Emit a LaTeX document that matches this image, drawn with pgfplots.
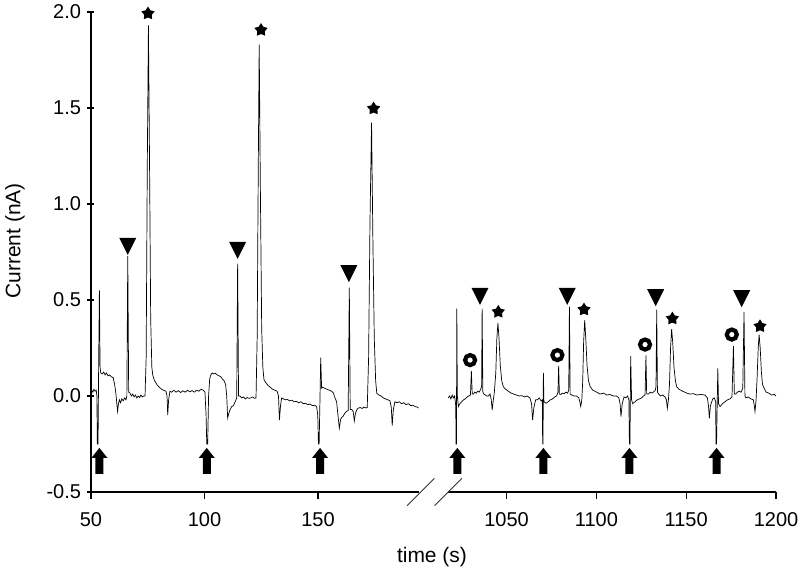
\documentclass[border=0pt]{standalone}
\usepackage{fontspec}
\setmainfont{Liberation Sans}
\usepackage{pgfplots}
\pgfplotsset{compat=1.18}

\pgfdeclareplotmark{fstar}{%
  \pgfpathmoveto{\pgfpointpolar{90}{7bp}}%
  \pgfpathlineto{\pgfpointpolar{126}{4bp}}%
  \pgfpathlineto{\pgfpointpolar{162}{7bp}}%
  \pgfpathlineto{\pgfpointpolar{198}{4bp}}%
  \pgfpathlineto{\pgfpointpolar{234}{7bp}}%
  \pgfpathlineto{\pgfpointpolar{270}{4bp}}%
  \pgfpathlineto{\pgfpointpolar{306}{7bp}}%
  \pgfpathlineto{\pgfpointpolar{342}{4bp}}%
  \pgfpathlineto{\pgfpointpolar{18}{7bp}}%
  \pgfpathlineto{\pgfpointpolar{54}{4bp}}%
  \pgfpathclose\pgfusepathqfill}
\pgfdeclareplotmark{dtri}{%
  \pgfpathmoveto{\pgfpoint{-8.5bp}{8.5bp}}%
  \pgfpathlineto{\pgfpoint{8.5bp}{8.5bp}}%
  \pgfpathlineto{\pgfpoint{0bp}{-8.5bp}}%
  \pgfpathclose\pgfusepathqfill}
\pgfdeclareplotmark{uarr}{%
  \pgfpathmoveto{\pgfpoint{0bp}{13bp}}%
  \pgfpathlineto{\pgfpoint{8bp}{3bp}}%
  \pgfpathlineto{\pgfpoint{4bp}{3bp}}%
  \pgfpathlineto{\pgfpoint{4bp}{-13bp}}%
  \pgfpathlineto{\pgfpoint{-4bp}{-13bp}}%
  \pgfpathlineto{\pgfpoint{-4bp}{3bp}}%
  \pgfpathlineto{\pgfpoint{-8bp}{3bp}}%
  \pgfpathclose\pgfusepathqfill}

\pgfplotsset{
  brk/.style={
    scale only axis, width=328bp, height=480bp,
    ymin=-0.5, ymax=2.0,
    axis x line=bottom,
    x axis line style={-, line width=1.2bp},
    tick align=outside, major tick length=7bp,
    tick style={black, line width=1.1bp},
    tick label style={font=\fontsize{20bp}{23bp}\selectfont},
    xticklabel style={yshift=-10bp},
    clip=false,
  },
  trace/.style={black, line width=0.7bp},
  tri/.style={only marks, mark=dtri, black},
  str/.style={only marks, mark=fstar, black},
  arr/.style={only marks, mark=uarr, black},
  rng/.style={only marks, mark=o, mark size=5bp, mark options={line width=4.2bp, draw=black, fill=white}},
}

\begin{document}
\begin{tikzpicture}
\path[use as bounding box] (-91bp,-80bp) rectangle (709bp,492bp);

\begin{axis}[brk, at={(0bp,0bp)}, anchor=south west,
  xmin=50, xmax=194.5,
  axis y line=left, y axis line style={-, line width=1.2bp},
  xtick={50,100,150}, xticklabels={50,100,150},
  ytick={-0.5,0,0.5,1,1.5,2}, yticklabels={-0.5,0.0,0.5,1.0,1.5,2.0},
  yticklabel style={xshift=-3bp},
  ylabel={Current (nA)},
  ylabel style={at={([xshift=-76bp]axis description cs:0,0.523)}, anchor=center, font=\fontsize{21bp}{24bp}\selectfont},
  xlabel={time (s)},
  xlabel style={at={([xshift=341bp,yshift=-65bp]axis description cs:0,0)}, anchor=center, font=\fontsize{21bp}{24bp}\selectfont},
]
\addplot[trace] coordinates {
(50.3,0.03) (50.8,0.02) (51.3,0.035) (51.8,0.025) (52.3,0.03) (52.6,0.0) (52.8,-0.25) (53.1,-0.25)
(53.4,0.2) (53.7,0.55) (54.0,0.15) (54.3,0.12) (55.0,0.115) (55.6,0.125) (56.2,0.11) (56.8,0.12)
(57.5,0.105) (58.2,0.11) (59.0,0.1) (59.8,0.095) (60.4,0.06) (60.9,0.02) (61.3,-0.03) (61.7,-0.08)
(62.1,-0.04) (62.5,-0.02) (63.0,-0.035) (63.6,-0.015) (64.2,-0.025) (64.8,-0.01) (65.4,-0.02)
(65.8,0.0) (66.2,0.73) (66.6,0.02) (67.2,0.015) (67.8,0.0) (68.4,0.01) (69.0,-0.005) (69.6,0.005)
(70.2,-0.01) (70.8,0.0) (71.4,-0.008) (72.0,0.005) (72.6,-0.005) (73.2,0.0) (73.8,0.0)
(74.3,0.2) (74.8,1.2) (75.3,1.93) (75.8,1.2) (76.3,0.4) (76.8,0.15) (77.2,0.11) (77.8,0.085)
(78.5,0.07) (79.3,0.055) (80.2,0.045) (81.1,0.035) (82.0,0.03) (83.0,0.025) (83.5,0.0) (83.8,-0.1)
(84.2,-0.02) (84.8,0.025) (85.5,0.02) (86.5,0.03) (87.5,0.02) (88.5,0.028) (89.5,0.018) (90.5,0.027)
(91.5,0.02) (92.5,0.03) (93.5,0.022) (94.5,0.028) (95.5,0.02) (96.5,0.03) (97.5,0.025) (98.5,0.035)
(99.5,0.03) (100.2,0.02) (100.7,-0.1) (101.0,-0.25) (101.4,-0.25) (101.8,0.0) (102.3,0.09) (102.8,0.11)
(103.4,0.12) (104.0,0.115) (104.8,0.118) (105.6,0.11) (106.4,0.105) (107.2,0.1) (107.8,0.09)
(108.6,0.08) (109.3,0.06) (109.8,0.0) (110.2,-0.115) (110.7,-0.09) (111.3,-0.07) (112.0,-0.055)
(112.8,-0.05) (113.5,-0.03) (114.2,-0.01) (114.6,0.69) (115.0,0.0) (115.6,0.0) (116.4,-0.01)
(117.2,-0.005) (118.0,-0.015) (118.8,-0.008) (119.6,-0.012) (120.4,-0.01) (121.2,-0.005)
(122.0,-0.012) (122.7,-0.01) (123.2,0.3) (123.7,1.2) (124.1,1.83) (124.6,1.1) (125.2,0.35)
(125.7,0.15) (126.2,0.085) (127.0,0.07) (128.0,0.055) (129.0,0.045) (130.0,0.035) (131.0,0.03)
(132.0,0.025) (132.6,0.0) (133.0,-0.125) (133.5,-0.05) (134.0,-0.01) (134.8,-0.015) (135.6,-0.02)
(136.5,-0.018) (137.5,-0.025) (138.5,-0.022) (139.5,-0.03) (140.5,-0.028) (141.5,-0.035)
(142.5,-0.03) (143.5,-0.04) (144.5,-0.038) (145.5,-0.045) (146.5,-0.042) (147.5,-0.05)
(148.5,-0.048) (149.4,-0.055) (149.9,-0.1) (150.2,-0.25) (150.5,-0.25) (150.9,0.0) (151.2,0.2)
(151.6,0.04) (152.1,0.045) (153.0,0.04) (154.0,0.035) (155.0,0.03) (156.0,0.025) (156.8,0.015)
(157.5,-0.01) (158.2,-0.03) (158.8,-0.1) (159.4,-0.167) (160.0,-0.12) (160.6,-0.11) (161.1,-0.105)
(161.8,-0.09) (162.6,-0.08) (163.3,-0.075) (163.8,0.564) (164.2,-0.07) (164.8,-0.07) (165.5,-0.08)
(166.0,-0.13) (166.5,-0.09) (167.2,-0.07) (167.8,-0.063) (168.6,-0.06) (169.4,-0.065) (170.2,-0.058)
(171.0,-0.062) (171.7,-0.06) (172.3,0.2) (172.9,0.9) (173.6,1.424) (174.2,0.8) (174.8,0.3)
(175.4,0.08) (175.9,0.015) (176.8,0.005) (177.8,0.0) (178.8,-0.01) (179.8,-0.015) (180.8,-0.02)
(181.7,-0.025) (182.3,-0.06) (182.7,-0.154) (183.2,-0.07) (183.9,-0.03) (184.8,-0.035) (185.8,-0.03)
(186.8,-0.04) (187.8,-0.035) (188.8,-0.045) (189.8,-0.04) (190.8,-0.05) (191.8,-0.048)
(192.8,-0.055) (193.8,-0.058) (194.3,-0.063)
};
\addplot[tri] coordinates {(66.2,0.779) (114.6,0.758) (163.6,0.637)};
\addplot[str] coordinates {(75.1,1.992) (124.9,1.906) (174.5,1.497)};
\addplot[arr] coordinates {(53.7,-0.338) (101.0,-0.338) (150.9,-0.338)};
\end{axis}

\begin{axis}[brk, at={(357bp,0bp)}, anchor=south west,
  xmin=1017.4, xmax=1200,
  axis y line=none,
  xtick={1050,1100,1150,1200}, xticklabels={1050,1100,1150,1200},
]
\addplot[trace] coordinates {
(1017.6,-0.01) (1018.3,0.0) (1019.0,-0.015) (1019.7,0.005) (1020.4,-0.01) (1021.1,0.0) (1021.7,-0.05)
(1021.9,-0.25) (1022.1,-0.25) (1022.3,0.455) (1022.6,0.0) (1023.2,-0.055) (1024.0,-0.04) (1025.0,-0.03)
(1026.0,-0.02) (1027.0,-0.015) (1028.0,-0.005) (1029.0,0.0) (1029.9,0.005) (1030.4,0.131) (1030.9,0.01)
(1031.5,0.01) (1032.3,0.02) (1033.1,0.015) (1034.0,0.025) (1034.8,0.02) (1035.6,0.035) (1036.1,0.05)
(1036.4,0.455) (1036.8,0.02) (1037.4,0.01) (1038.2,0.005) (1039.0,0.0) (1039.9,0.0) (1040.8,0.01)
(1041.5,-0.02) (1042.0,-0.073) (1042.5,-0.03) (1043.2,0.02) (1044.0,0.12) (1044.6,0.3) (1045.2,0.38)
(1045.8,0.3) (1046.5,0.16) (1047.3,0.08) (1048.2,0.048) (1049.5,0.035) (1051.0,0.025) (1052.5,0.015)
(1054.0,0.01) (1055.5,0.005) (1057.0,0.0) (1058.5,0.002) (1060.0,-0.005) (1061.5,0.0) (1063.0,-0.01)
(1063.9,-0.04) (1064.5,-0.125) (1065.2,-0.06) (1066.2,-0.02) (1067.2,-0.02) (1068.2,-0.01)
(1069.2,-0.025) (1069.9,-0.02) (1070.1,-0.25) (1070.3,-0.25) (1070.5,0.121) (1070.8,-0.03)
(1072.0,-0.038) (1073.2,-0.03) (1074.4,-0.02) (1075.6,-0.015) (1076.8,-0.005) (1077.9,0.0)
(1078.6,0.02) (1079.0,0.157) (1079.4,0.01) (1080.2,0.008) (1081.0,0.015) (1082.0,0.012) (1083.0,0.02)
(1084.0,0.015) (1084.6,0.03) (1085.0,0.464) (1085.4,0.01) (1086.3,0.005) (1087.5,0.0) (1089.0,0.0)
(1090.2,-0.01) (1090.8,-0.03) (1091.3,-0.055) (1091.9,-0.02) (1092.4,0.08) (1092.9,0.28) (1093.5,0.395)
(1094.1,0.3) (1094.8,0.16) (1095.6,0.08) (1096.5,0.05) (1098.0,0.03) (1100.2,0.02) (1102.0,0.01)
(1104.0,0.015) (1105.8,0.005) (1107.5,0.008) (1109.5,0.0) (1111.3,0.0) (1112.5,-0.01) (1113.2,-0.04)
(1113.7,-0.107) (1114.4,-0.04) (1115.4,-0.005) (1116.4,-0.01) (1117.4,0.0) (1118.1,-0.02)
(1118.4,-0.25) (1118.7,-0.25) (1119.1,0.208) (1119.6,-0.02) (1120.2,-0.04) (1121.5,-0.03)
(1122.8,-0.02) (1124.0,-0.015) (1125.2,-0.01) (1126.2,0.0) (1127.1,0.005) (1127.6,0.211) (1128.0,0.01)
(1129.0,0.01) (1130.0,0.02) (1131.0,0.015) (1131.7,0.02) (1132.8,0.03) (1133.2,0.05) (1133.6,0.45)
(1134.0,0.02) (1134.7,0.01) (1135.8,0.0) (1137.0,0.005) (1138.2,-0.005) (1139.0,-0.02) (1139.5,-0.064)
(1140.1,-0.02) (1140.7,0.06) (1141.3,0.25) (1141.9,0.348) (1142.5,0.28) (1143.2,0.15) (1144.0,0.08)
(1144.7,0.048) (1146.0,0.035) (1148.0,0.025) (1150.3,0.015) (1152.0,0.01) (1154.0,0.012)
(1156.0,0.005) (1158.0,0.008) (1160.5,0.005) (1161.8,-0.01) (1162.4,-0.05) (1162.9,-0.116)
(1163.5,-0.05) (1164.8,-0.015) (1165.7,-0.01) (1166.4,-0.03) (1166.6,-0.25) (1166.9,-0.25)
(1167.6,0.144) (1168.0,-0.04) (1168.9,-0.055) (1170.2,-0.04) (1171.6,-0.03) (1173.0,-0.02)
(1174.4,-0.015) (1175.5,-0.005) (1176.3,0.26) (1176.8,0.01) (1177.5,0.01) (1178.5,0.02)
(1179.5,0.025) (1180.5,0.02) (1181.5,0.04) (1182.2,0.438) (1182.7,0.0) (1183.3,-0.01) (1184.5,-0.005)
(1186.0,-0.015) (1187.4,-0.02) (1187.9,-0.05) (1188.3,-0.081) (1188.9,-0.02) (1189.5,0.1)
(1190.1,0.25) (1190.6,0.32) (1191.2,0.25) (1191.9,0.12) (1192.5,0.06) (1193.0,0.048) (1194.5,0.02)
(1196.0,0.015) (1197.5,0.005) (1199.0,0.008) (1200.0,0.0)
};
\addplot[tri] coordinates {(1035.2,0.519) (1083.8,0.519) (1133.0,0.512) (1180.9,0.507)};
\addplot[str] coordinates {(1045.4,0.438) (1093.1,0.450) (1142.3,0.403) (1191.1,0.363)};
\addplot[rng] coordinates {(1029.7,0.187) (1078.3,0.213) (1127.1,0.268) (1175.4,0.320)};
\addplot[arr] coordinates {(1022.6,-0.338) (1070.5,-0.338) (1118.4,-0.338) (1166.9,-0.338)};
\end{axis}

\draw[black!80, line width=0.8bp] (316bp,-13.7bp) -- (343.4bp,13.7bp);
\draw[black!80, line width=0.8bp] (343.6bp,-13.7bp) -- (371bp,13.7bp);
\end{tikzpicture}
\end{document}
